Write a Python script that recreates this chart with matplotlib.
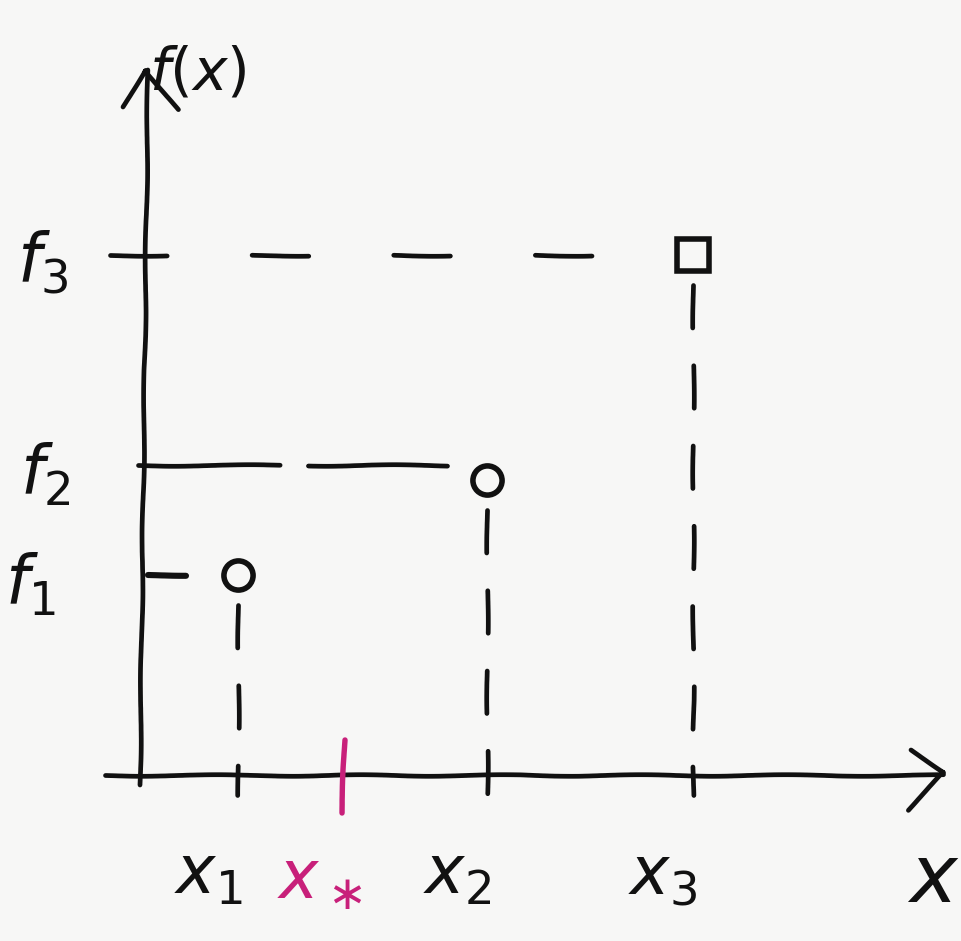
import numpy as np
import matplotlib
matplotlib.use("Agg")
import matplotlib.pyplot as plt

# sample points of f(x)
x_pts = [0.90, 3.39, 5.45]
f_pts = [2.00, 2.95, 5.20]
x_labels = [r"$x_1$", r"$x_2$", r"$x_3$"]
f_labels = [r"$f_1$", r"$f_2$", r"$f_3$"]
markers = ["o", "o", "s"]
x_star = 1.97

ink = "#111111"
pink = "#c8207a"
bg = "#f7f7f6"

plt.rcParams["path.sketch"] = (0.8, 160, 2)
plt.rcParams["mathtext.fontset"] = "dejavusans"

fig = plt.figure(figsize=(9.62, 9.41), dpi=100, facecolor=bg)
ax = fig.add_axes([0, 0, 1, 1])
ax.set_facecolor(bg)
ax.set_xlim(-1.48, 8.14)
ax.set_ylim(-1.66, 7.75)
ax.axis("off")

lw = 3.4
# axes
ax.plot([-0.43, 7.95], [0, 0], color=ink, lw=lw, solid_capstyle="round")
ax.plot([-0.08, 0.0], [-0.10, 7.05], color=ink, lw=lw, solid_capstyle="round")
# arrow heads
ax.plot([7.63, 7.96, 7.60], [0.25, 0.03, -0.35], color=ink, lw=lw,
        solid_capstyle="round", solid_joinstyle="round")
ax.plot([-0.25, -0.03, 0.30], [6.68, 7.05, 6.65], color=ink, lw=lw,
        solid_capstyle="round", solid_joinstyle="round")

# guide lines from the points down to the x axis
for i, (x, f) in enumerate(zip(x_pts, f_pts)):
    ax.plot([x, x], [f - 0.3, -0.2], color=ink, lw=lw, ls=(0, (9, 8)),
            solid_capstyle="round", dash_capstyle="round")
    ax.plot(x, f, marker=markers[i], ms=21 if markers[i] == "o" else 23,
            mfc="none", mec=ink, mew=lw + 0.6)
    ax.text(x - 0.3, -1.0, x_labels[i], fontsize=48, color=ink,
            ha="center", va="center")

# horizontal guides to the f-axis
ax.plot([-0.38, x_pts[2] - 0.3], [f_pts[2], f_pts[2]], color=ink, lw=lw,
        ls=(0, (12, 18)), dash_capstyle="round")
ax.plot([-0.10, x_pts[1] - 0.4], [f_pts[1] + 0.15, f_pts[1] + 0.15],
        color=ink, lw=lw, ls=(0, (30, 6)), dash_capstyle="round")
ax.plot([0.0, 0.38], [f_pts[0], f_pts[0]], color=ink, lw=lw + 1,
        solid_capstyle="round")

ax.text(-1.05, f_pts[2] - 0.08, f_labels[2], fontsize=48, color=ink,
        ha="center", va="center")
ax.text(-1.03, f_pts[1] + 0.05, f_labels[1], fontsize=48, color=ink,
        ha="center", va="center")
ax.text(-1.18, f_pts[0] - 0.1, f_labels[0], fontsize=48, color=ink,
        ha="center", va="center")
ax.text(0.50, 7.02, r"$f(x)$", fontsize=42, color=ink,
        ha="center", va="center")
ax.text(7.85, -1.05, r"$x$", fontsize=58, color=ink,
        ha="center", va="center")

# x* marker
ax.plot([x_star, x_star - 0.03], [0.35, -0.38], color=pink, lw=lw + 0.5,
        solid_capstyle="round")
ax.text(x_star - 0.25, -1.05, r"$x_\ast$", fontsize=48, color=pink,
        ha="center", va="center")

plt.savefig("out.png", dpi=100, facecolor=bg)
